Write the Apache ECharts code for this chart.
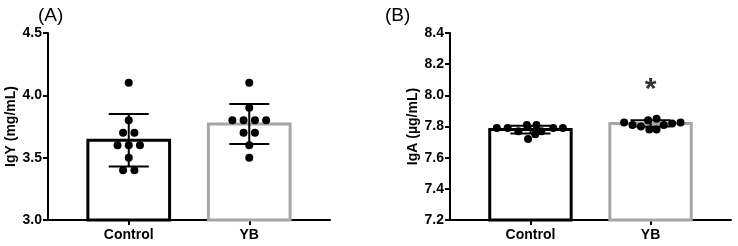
<!DOCTYPE html>
<html>
<head>
<meta charset="utf-8">
<script src="https://cdn.jsdelivr.net/npm/echarts@6/dist/echarts.min.js"></script>
<style>
  html, body { margin: 0; padding: 0; background: #fff; }
  #chart { width: 738px; height: 246px; }
</style>
</head>
<body>
<div id="chart"></div>
<script>
  // groups
  const groups = ['Control', 'YB'];
  const barColors = ['#000000', '#a6a6a6'];

  // panel A: IgY (mg/mL)
  const igyMean = [3.64, 3.77];
  const igySd = [0.21, 0.16];
  // [x position (group + jitter), value]
  const igyControl = [
    [1, 4.1], [1, 3.8], [0.953, 3.7], [1.047, 3.7],
    [0.907, 3.6], [1, 3.6], [1.093, 3.6], [1, 3.5],
    [0.953, 3.4], [1.047, 3.4]
  ];
  const igyYB = [
    [2, 4.1], [2, 3.9], [1.86, 3.8], [1.953, 3.8], [2.047, 3.8], [2.14, 3.8],
    [1.953, 3.7], [2.047, 3.7], [2, 3.6], [2, 3.5]
  ];

  // panel B: IgA (µg/mL)
  const igaMean = [7.78, 7.82];
  const igaSd = [0.025, 0.02];
  const igaControl = [
    [0.72, 7.79], [0.81, 7.79], [1.19, 7.79], [1.27, 7.79],
    [0.97, 7.81], [1.05, 7.81], [0.9, 7.77], [1.09, 7.77],
    [1.04, 7.75], [0.98, 7.72]
  ];
  const igaYB = [
    [1.78, 7.825], [2.25, 7.825], [1.98, 7.84], [2.05, 7.85],
    [1.85, 7.81], [1.92, 7.80], [1.99, 7.78], [2.05, 7.78],
    [2.11, 7.81], [2.18, 7.82]
  ];
  const starPos = [[2, 8.08]];

  const axisColor = '#000';
  const font = 'Liberation Sans, Arial, sans-serif';

  function xAxisFor(gi) {
    return {
      gridIndex: gi, type: 'value', min: 0.33, max: 2.67,
      axisLine: { lineStyle: { color: axisColor, width: 2 } },
      axisTick: { show: true, customValues: [1, 2], length: 5, lineStyle: { color: axisColor, width: 2 } },
      axisLabel: {
        customValues: [1, 2], margin: 8,
        formatter: v => groups[Math.round(v) - 1],
        color: '#000', fontWeight: 'bold', fontSize: 14, fontFamily: font
      },
      splitLine: { show: false }
    };
  }

  function yAxisFor(gi, min, max, step, name) {
    return {
      gridIndex: gi, type: 'value', min: min, max: max, interval: step,
      name: name, nameLocation: 'middle', nameGap: 30,
      nameTextStyle: { color: '#000', fontWeight: 'bold', fontSize: 14, fontFamily: font },
      axisLine: { show: true, lineStyle: { color: axisColor, width: 2 } },
      axisTick: { show: true, length: 5, lineStyle: { color: axisColor, width: 2 } },
      axisLabel: {
        margin: 6, formatter: v => v.toFixed(1),
        color: '#000', fontWeight: 'bold', fontSize: 14, fontFamily: font
      },
      splitLine: { show: false }
    };
  }

  function barSeries(gi, means, base) {
    return {
      type: 'custom', xAxisIndex: gi, yAxisIndex: gi, z: 1,
      data: means.map((m, i) => [i + 1, m, i]),
      renderItem: (params, api) => {
        const lt = api.coord([api.value(0) - 0.339, api.value(1)]);
        const rb = api.coord([api.value(0) + 0.339, base]);
        return {
          type: 'rect',
          shape: { x: lt[0], y: lt[1], width: rb[0] - lt[0], height: rb[1] - lt[1] },
          style: { fill: '#fff', stroke: barColors[api.value(2)], lineWidth: 3 }
        };
      }
    };
  }

  function errSeries(gi, means, sds) {
    return {
      type: 'custom', xAxisIndex: gi, yAxisIndex: gi, z: 5,
      data: means.map((m, i) => [i + 1, m - sds[i], m + sds[i]]),
      renderItem: (params, api) => {
        const lo = api.coord([api.value(0), api.value(1)]);
        const hi = api.coord([api.value(0), api.value(2)]);
        const w = 20;
        const st = { stroke: '#000', lineWidth: 2 };
        return {
          type: 'group',
          children: [
            { type: 'line', shape: { x1: lo[0], y1: lo[1], x2: hi[0], y2: hi[1] }, style: st },
            { type: 'line', shape: { x1: lo[0] - w, y1: lo[1], x2: lo[0] + w, y2: lo[1] }, style: st },
            { type: 'line', shape: { x1: hi[0] - w, y1: hi[1], x2: hi[0] + w, y2: hi[1] }, style: st }
          ]
        };
      }
    };
  }

  function dotSeries(gi, data) {
    return {
      type: 'scatter', xAxisIndex: gi, yAxisIndex: gi, z: 3,
      data: data, symbol: 'circle', symbolSize: 8,
      itemStyle: { color: '#000', opacity: 1 }
    };
  }

  const chart = echarts.init(document.getElementById('chart'));
  chart.setOption({
    animation: false,
    backgroundColor: '#fff',
    grid: [
      { left: 48, top: 33, width: 282, height: 187 },
      { left: 450, top: 33, width: 281, height: 187 }
    ],
    title: [
      { text: '(A)', left: 33, top: 1, textStyle: { fontSize: 19, fontWeight: 'normal', color: '#000', fontFamily: font } },
      { text: '(B)', left: 380, top: 1, textStyle: { fontSize: 19, fontWeight: 'normal', color: '#000', fontFamily: font } }
    ],
    xAxis: [xAxisFor(0), xAxisFor(1)],
    yAxis: [
      yAxisFor(0, 3.0, 4.5, 0.5, 'IgY (mg/mL)'),
      yAxisFor(1, 7.2, 8.4, 0.2, 'IgA (µg/mL)')
    ],
    series: [
      barSeries(0, igyMean, 3.0),
      dotSeries(0, igyControl),
      dotSeries(0, igyYB),
      errSeries(0, igyMean, igySd),
      barSeries(1, igaMean, 7.2),
      dotSeries(1, igaControl),
      dotSeries(1, igaYB),
      errSeries(1, igaMean, igaSd),
      {
        type: 'scatter', xAxisIndex: 1, yAxisIndex: 1, z: 6,
        data: starPos, symbolSize: 0, silent: true,
        label: {
          show: true, position: 'inside', formatter: '*',
          color: '#000', textBorderWidth: 0, fontSize: 30, fontWeight: 'bold',
          fontFamily: font, offset: [0, 7]
        }
      }
    ]
  });
</script>
</body>
</html>
